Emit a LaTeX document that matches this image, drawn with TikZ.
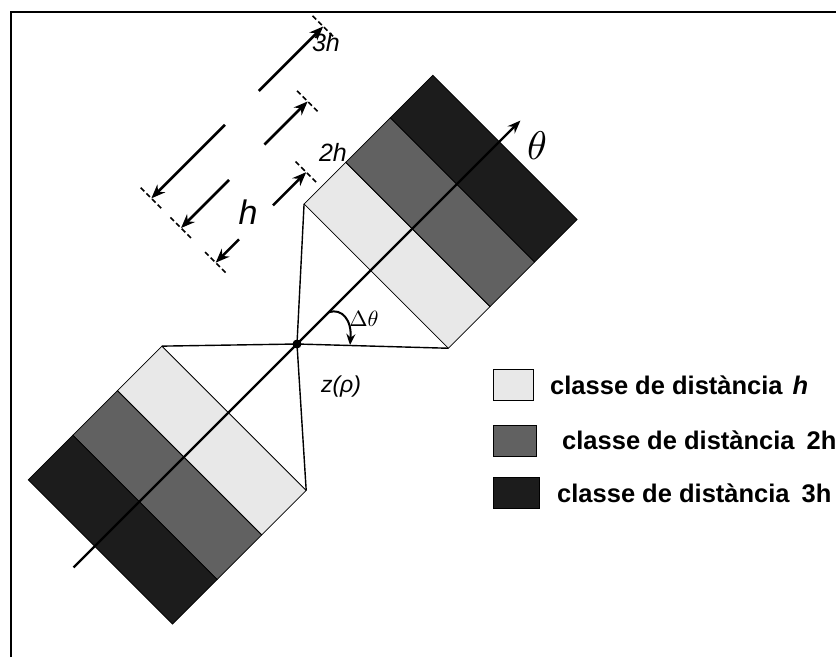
\documentclass[tikz,border=0pt]{standalone}
\usepackage[no-math]{fontspec}
\setmainfont{Liberation Sans}
\usetikzlibrary{arrows.meta, positioning}
\definecolor{bandlight}{gray}{0.91}
\definecolor{bandmid}{gray}{0.38}
\definecolor{banddark}{gray}{0.11}

\begin{document}
\begin{tikzpicture}[x=1pt, y=-1pt,
  band/.style={draw=black, line width=0.8pt},
  axis/.style={-{Stealth[length=13pt, width=10pt]}, line width=2.4pt},
  dim/.style={-{Stealth[length=14pt, width=11pt]}, line width=2.6pt},
  tick/.style={line width=1.6pt, dash pattern=on 5pt off 3pt},
  cone/.style={line width=1.4pt},
  legbox/.style={draw=black, line width=1pt, minimum height=31pt, inner sep=0pt},
  legtext/.style={font=\fontsize{25.5}{27}\selectfont\bfseries, anchor=west, inner sep=0pt},
  lbl/.style={font=\fontsize{25}{27}\selectfont\itshape, inner sep=0pt}
]
  \useasboundingbox (0,0) rectangle (836,657);
  % frame
  \draw[line width=2.5pt] (11,657) -- (11,12) -- (836,12);

  \begin{scope}[shift={(297,344)}, rotate=45]
    \coordinate (O) at (0,0);
    % upper block
    \filldraw[band, fill=bandlight] (104,-94) -- (163,-94) -- (163,110) -- (104,110) -- cycle;
    \filldraw[band, fill=bandmid]   (163,-94) -- (226,-94) -- (226,110) -- (163,110) -- cycle;
    \filldraw[band, fill=banddark]  (226,-94) -- (286,-94) -- (286,110) -- (226,110) -- cycle;
    % lower block
    \filldraw[band, fill=bandlight] (-97,-94) -- (-160,-94) -- (-160,110) -- (-97,110) -- cycle;
    \filldraw[band, fill=bandmid]   (-160,-94) -- (-223,-94) -- (-223,110) -- (-160,110) -- cycle;
    \filldraw[band, fill=banddark]  (-223,-94) -- (-286,-94) -- (-286,110) -- (-223,110) -- cycle;
    \coordinate (ul) at (104,-94);
    \coordinate (ur) at (104,110);
    \coordinate (ll) at (-97,-94);
    \coordinate (lr) at (-97,110);
    \coordinate (axlo) at (-316,0);
    \coordinate (axhi) at (316,0);
    % dimension h
    \coordinate (h0) at (0,-115);   \coordinate (h1) at (33,-115);
    \coordinate (h2) at (81,-115);  \coordinate (h3) at (128,-115);
    \draw[tick] (0,-130) -- (0,-100);
    \draw[tick] (128,-130) -- (128,-100);
    % dimension 2h
    \coordinate (d0) at (0,-164);   \coordinate (d1) at (68,-164);
    \coordinate (d2) at (118,-164); \coordinate (d3) at (179,-164);
    \draw[tick] (0,-179) -- (0,-149);
    \draw[tick] (179,-179) -- (179,-149);
    % dimension 3h
    \coordinate (t0) at (0,-206);   \coordinate (t1) at (104,-206);
    \coordinate (t2) at (152,-206); \coordinate (t3) at (243,-206);
    \draw[tick] (0,-221) -- (0,-191);
    \draw[tick] (243,-221) -- (243,-191);
    % delta theta arc start
    \coordinate (da) at (45,0);
  \end{scope}

  \draw[cone] (ul) -- (O) -- (lr);
  \draw[cone] (ll) -- (O) -- (ur);
  \draw[axis] (axlo) -- (axhi);
  \fill (O) circle (4.5pt);

  \draw[dim] (h1) -- (h0);
  \draw[dim] (h2) -- (h3);
  \draw[dim] (d1) -- (d0);
  \draw[dim] (d2) -- (d3);
  \draw[dim] (t1) -- (t0);
  \draw[dim] (t2) -- (t3);

  \coordinate (db) at (350,345);
  \draw[-{Stealth[length=11pt, width=9pt]}, line width=2pt]
    (da) .. controls (342,308) and (352,320) .. (db);

  \node[lbl, font=\fontsize{34}{36}\selectfont\itshape] (hl) at (248,212) {h};
  \node[lbl] (dl) at (333,152) {2h};
  \node[lbl] (tl) at (326,43) {3h};
  \node[inner sep=0pt, scale=4] (th) at (537,146) {$\theta$};
  \node[inner sep=0pt, scale=2.2] (dt) at (364,319) {$\Delta\theta$};
  \node[lbl, font=\fontsize{23}{25}\selectfont\itshape] (zr) at (341,387) {z(ρ)};

  % legend
  \node[legbox, fill=bandlight, minimum width=40pt] (k1) at (513,384.5) {};
  \node[legbox, fill=bandmid,   minimum width=43pt] (k2) at (514.5,440.5) {};
  \node[legbox, fill=banddark,  minimum width=46pt] (k3) at (516,492.5) {};
  \node[legtext] (c1) at (550,385) {classe de distància\hspace{10pt}\textit{h}};
  \node[legtext] (c2) at (562,440) {classe de distància\hspace{12pt}2h};
  \node[legtext] (c3) at (557,493) {classe de distància\hspace{12pt}3h};
\end{tikzpicture}
\end{document}
